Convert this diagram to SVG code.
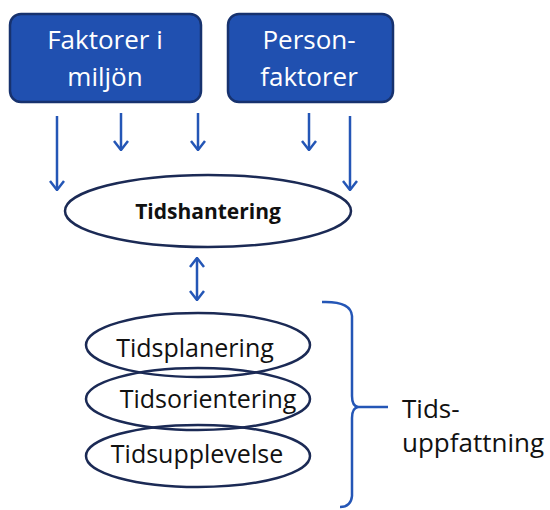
<svg xmlns="http://www.w3.org/2000/svg" width="550" height="510" viewBox="0 0 550 510">
<style>
.box{fill:#2050B0;stroke:#17326E;stroke-width:2.5}
.btxt{font-family:"Open Sans","Liberation Sans",sans-serif;font-size:26px;font-weight:500;fill:#fff;text-anchor:middle}
.ell{fill:none;stroke:#1B2A55;stroke-width:2.5}
.etxt{font-family:"Open Sans","Liberation Sans",sans-serif;font-size:25px;font-weight:500;fill:#111;text-anchor:middle}
.arr{stroke:#2456B6;stroke-width:2.5;fill:none}
.lbl{font-family:"Open Sans","Liberation Sans",sans-serif;font-size:26px;font-weight:500;fill:#111}
</style>
<defs>
<marker id="ah" viewBox="0 0 12 16" refX="11" refY="8" markerWidth="12" markerHeight="16" markerUnits="userSpaceOnUse" orient="auto-start-reverse">
<path d="M2,1 L11,8 L2,15" fill="none" stroke="#2456B6" stroke-width="2.5"/>
</marker>
</defs>
<rect width="550" height="510" fill="#fff"/>
<g id="faktorer-i-miljon">
<rect class="box" x="10" y="14" width="191" height="88" rx="11"/>
<text class="btxt" x="105" y="49">Faktorer i</text>
<text class="btxt" x="105" y="86">miljön</text>
</g>
<g id="personfaktorer">
<rect class="box" x="228" y="14" width="165" height="88" rx="11"/>
<text class="btxt" x="309" y="49">Person-</text>
<text class="btxt" x="309" y="86">faktorer</text>
</g>
<g id="connectors">
<line class="arr" x1="57" y1="116" x2="57" y2="190" marker-end="url(#ah)"/>
<line class="arr" x1="121" y1="113" x2="121" y2="150" marker-end="url(#ah)"/>
<line class="arr" x1="198" y1="113" x2="198" y2="150" marker-end="url(#ah)"/>
<line class="arr" x1="309" y1="113" x2="309" y2="150" marker-end="url(#ah)"/>
<line class="arr" x1="350" y1="116" x2="350" y2="190" marker-end="url(#ah)"/>
<line class="arr" x1="197" y1="258" x2="197" y2="300" marker-start="url(#ah)" marker-end="url(#ah)"/>
<path class="arr" d="M322,302 Q351,301 352,316 L352,396 Q352,406 358,407 Q352,408 352,418 L352,496 Q351,507 340,507"/>
<line class="arr" x1="358" y1="407" x2="388" y2="407"/>
</g>
<g id="tidshantering">
<ellipse class="ell" cx="208" cy="211" rx="143" ry="36"/>
<text class="etxt" x="208" y="219" style="font-size:21px;font-weight:bold">Tidshantering</text>
</g>
<g id="tidsplanering">
<ellipse class="ell" cx="198" cy="345" rx="112" ry="32"/>
<text class="etxt" x="195" y="357">Tidsplanering</text>
</g>
<g id="tidsorientering">
<ellipse class="ell" cx="198" cy="399" rx="112" ry="31"/>
<text class="etxt" x="208" y="408">Tidsorientering</text>
</g>
<g id="tidsupplevelse">
<ellipse class="ell" cx="198" cy="456" rx="112" ry="31"/>
<text class="etxt" x="197" y="463">Tidsupplevelse</text>
</g>
<g id="tidsuppfattning">
<text class="lbl" x="402" y="418">Tids-</text>
<text class="lbl" x="402" y="452">uppfattning</text>
</g>
</svg>
